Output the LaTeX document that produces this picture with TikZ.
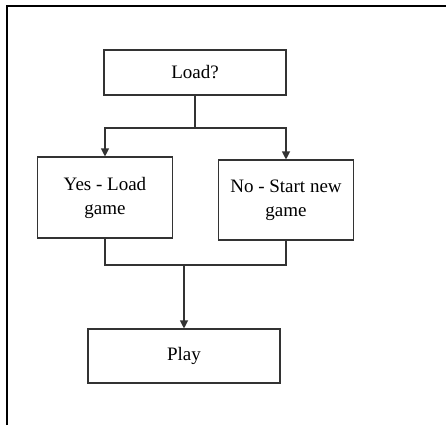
\documentclass[tikz,border=0pt]{standalone}
\usepackage{fontspec}
\setmainfont{Liberation Serif}
\usepackage{tikz}
\usetikzlibrary{calc,arrows.meta}

\tikzset{
  stepbox/.style={draw=black!80, line width=1.1pt, rectangle, align=center,
    inner sep=2pt, font=\fontsize{19}{24}\selectfont},
  flow/.style={draw=black!80, line width=1.1pt},
  flowarr/.style={flow, -{Triangle[width=8pt,length=8pt]}}
}

\begin{document}
\begin{tikzpicture}[x=1pt,y=-1pt]
    \useasboundingbox (0,0) rectangle (446,425);
    % frame of the cell
    \draw[line width=2pt] (7,425) -- (7,6.5) -- (446,6.5);
    % boxes
    \node[stepbox, minimum width=182pt, minimum height=45pt] (load) at (195,72.5) {Load?};
    \node[stepbox, minimum width=135pt, minimum height=81pt] (yes) at (105,197.5) {Yes - Load\\game};
    \node[stepbox, minimum width=135pt, minimum height=80pt] (no) at (286,200) {No - Start new\\game};
    \node[stepbox, minimum width=192pt, minimum height=54pt] (play) at (184,356) {Play};
    % branch
    \coordinate (split) at (195,128);
    \draw[flow] (load) -- (split);
    \draw[flowarr] (split) -| (yes);
    \draw[flowarr] (split) -| (no);
    % merge
    \coordinate (join) at (184,265);
    \draw[flow] (yes) |- (join);
    \draw[flow] (no) |- (join);
    \draw[flowarr] (join) -- (play);
\end{tikzpicture}
\end{document}
